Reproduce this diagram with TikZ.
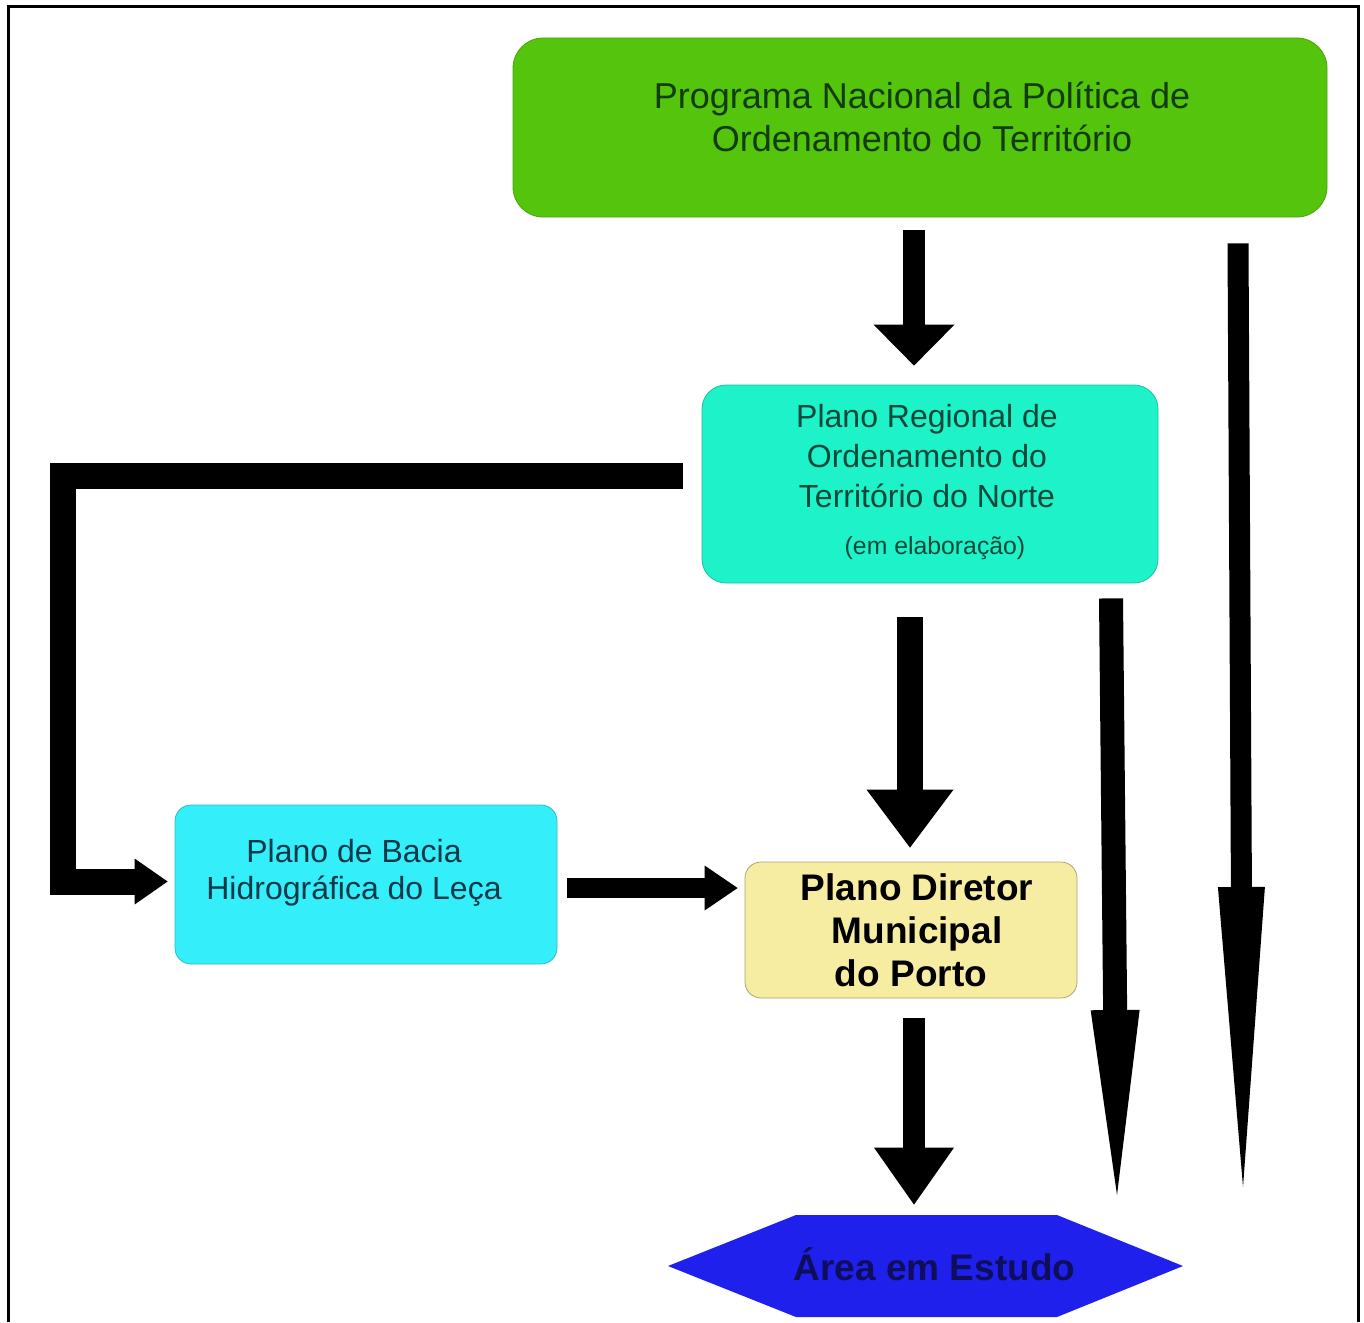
\documentclass[tikz,border=0pt]{standalone}
\usepackage{fontspec}
\setmainfont{Liberation Sans}
\usetikzlibrary{arrows.meta,calc}
\definecolor{gtop}{RGB}{84,196,12}
\definecolor{gtopt}{RGB}{18,60,14}
\definecolor{turq}{RGB}{30,242,200}
\definecolor{turqt}{RGB}{12,72,58}
\definecolor{cyanb}{RGB}{52,238,250}
\definecolor{cyant}{RGB}{12,56,72}
\definecolor{yelb}{RGB}{246,236,162}
\definecolor{blueb}{RGB}{32,32,236}
\definecolor{bluet}{RGB}{14,14,90}
\begin{document}
\begin{tikzpicture}[x=0.5pt,y=-0.5pt,
  boxstyle/.style={rectangle, inner sep=0pt},
  conn/.style={black, line join=miter, line cap=butt},
  frameline/.style={black, line width=1.5pt, line join=miter}]
\useasboundingbox (0,0) rectangle (1364,1322);
\draw[frameline] (8,1322) -- (8,7) -- (1358,7) -- (1358,1322);

% boxes
\node[boxstyle, fill=gtop, draw=gtop!85!black, line width=0.4pt, rounded corners=15pt,
  minimum width=407pt, minimum height=89.5pt] (top) at (920,127.5) {};
\node[align=center, text=gtopt, font=\fontsize{18}{21.5}\selectfont] (topt) at (922,117)
  {Programa Nacional da Política de\\Ordenamento do Território};

\node[boxstyle, fill=turq, draw=turq!80!black, line width=0.4pt, rounded corners=12pt,
  minimum width=228pt, minimum height=99pt] (protn) at (930,484) {};
\node[align=center, text=turqt, font=\fontsize{16}{20}\selectfont] (protnt) at (927,482)
  {Plano Regional de\\Ordenamento do\\Território do Norte\\[3.5pt]\hspace*{8pt}{\fontsize{12.4}{20}\selectfont (em elaboração)}};

\node[boxstyle, fill=cyanb, draw=cyanb!80!black, line width=0.4pt, rounded corners=8pt,
  minimum width=191pt, minimum height=79.5pt] (leca) at (366,884.5) {};
\node[align=center, text=cyant, font=\fontsize{16}{18.5}\selectfont] (lecat) at (354,873)
  {Plano de Bacia\\Hidrográfica do Leça};

\node[boxstyle, fill=yelb, draw=yelb!70!black, line width=0.4pt, rounded corners=8pt,
  minimum width=166pt, minimum height=68pt, align=center,
  font=\bfseries\fontsize{18.5}{21.5}\selectfont] (pdm) at (911,930)
  {\hspace*{6pt}Plano Diretor\\\hspace*{6pt}Municipal\\do Porto};

\node[boxstyle, minimum width=257.5pt, minimum height=51pt, text=bluet,
  font=\bfseries\fontsize{18.5}{21}\selectfont,
  path picture={\fill[blueb] (path picture bounding box.west)
     -- ($(path picture bounding box.north west)+(128,0)$)
     -- ($(path picture bounding box.north east)+(-126,0)$)
     -- (path picture bounding box.east)
     -- ($(path picture bounding box.south east)+(-126,0)$)
     -- ($(path picture bounding box.south west)+(128,0)$) -- cycle;}] (area) at (925.5,1266)
  {\hspace*{9pt}\raisebox{1.5pt}{Área em Estudo}};

% free ends
\coordinate (endR) at (1243,1187);
\coordinate (endM) at (1117,1195);

% connectors
\draw[conn, line width=11pt, -{Triangle[length=20.5pt,width=40.5pt,line width=0pt]}]
  ($(top.south)+(-6,13)$) -- ($(protn.north)+(-16,-19)$);
\draw[conn, line width=10.5pt, -{Triangle[length=150pt,width=23.5pt,line width=0pt]}]
  ($(top.south)+(318,26)$) -- (endR);
\draw[conn, line width=12pt, -{Triangle[length=92.5pt,width=24.5pt,line width=0pt]}]
  ($(protn.south)+(181,15)$) -- (endM);
\draw[conn, line width=13pt, -{Triangle[length=16.5pt,width=23pt,line width=0pt]}]
  ($(protn.west)+(-19,-8)$) -| ($(leca.west)+(-112,-3)$) -- ($(leca.west)+(-7,-3)$);
\draw[conn, line width=10pt, -{Triangle[length=16.5pt,width=22.5pt,line width=0pt]}]
  ($(leca.east)+(10,3.5)$) -- ($(pdm.west)+(-7,-42)$);
\draw[conn, line width=13pt, -{Triangle[length=29pt,width=43.5pt,line width=0pt]}]
  ($(protn.south)+(-20,34)$) -- ($(pdm.north)+(-1,-14)$);
\draw[conn, line width=11pt, -{Triangle[length=28.5pt,width=40pt,line width=0pt]}]
  ($(pdm.south)+(3,20)$) -- ($(area.north)+(-11.5,-10)$);
\end{tikzpicture}
\end{document}
